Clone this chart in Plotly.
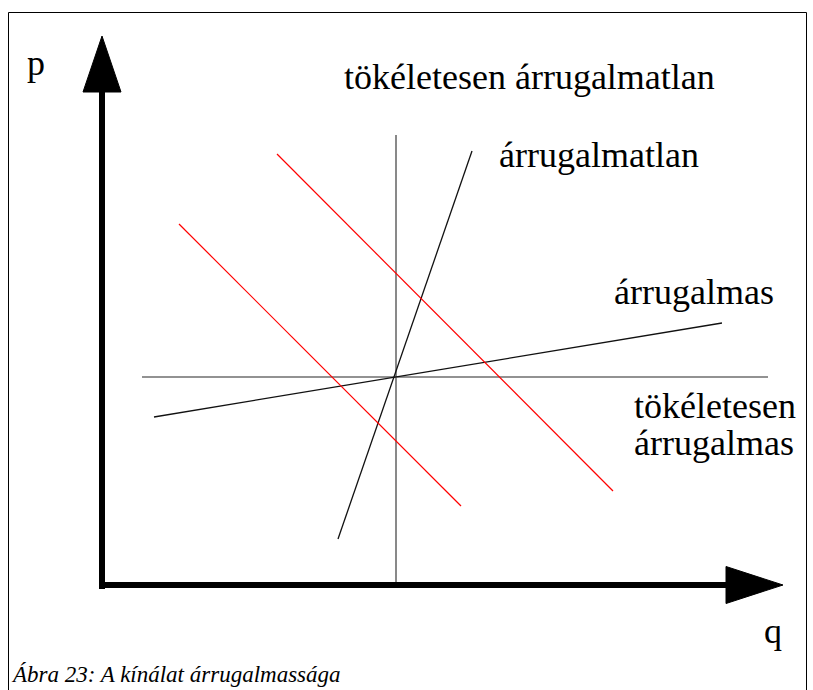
import plotly.graph_objects as go

# Diagram coordinates: q (quantity) horizontal, p (price) vertical
# perfectly inelastic (vertical) and perfectly elastic (horizontal) supply
perf_inel_q = [29.4, 29.4]
perf_inel_p = [0.3, 45.0]
perf_el_q = [4.0, 66.6]
perf_el_p = [20.8, 20.8]

# inelastic (steep) and elastic (flat) supply
inel_q = [23.6, 37.0]
inel_p = [4.6, 43.4]
el_q = [5.2, 62.0]
el_p = [16.8, 26.2]

# demand curves (red)
d1_q = [7.7, 35.9]
d1_p = [36.1, 7.9]
d2_q = [17.5, 51.1]
d2_p = [43.1, 9.4]

# axes
yaxis_q = [0, 0]
yaxis_p = [-0.4, 49.3]
yhead_q = [-1.9, 1.9, 0, -1.9]
yhead_p = [49.3, 49.3, 54.9, 49.3]
xaxis_q = [-0.3, 62.4]
xaxis_p = [0, 0]
xhead_q = [62.4, 62.4, 68.1, 62.4]
xhead_p = [1.85, -1.85, 0, 1.85]

labels = [
    ("tökéletesen árrugalmatlan", 24.0, 50.8),
    ("árrugalmatlan", 39.5, 43.0),
    ("árrugalmas", 51.0, 29.3),
    ("tökéletesen", 53.0, 17.9),
    ("árrugalmas", 53.0, 14.2),
]
axis_labels = [("p", -6.6, 52.2), ("q", 67.1, -4.6)]
caption = "Ábra 23: A kínálat árrugalmassága"

fig = go.Figure()

def line(x, y, color, width):
    fig.add_trace(go.Scatter(x=x, y=y, mode="lines",
                             line=dict(color=color, width=width),
                             hoverinfo="skip", showlegend=False))

line(perf_inel_q, perf_inel_p, "#4a4a4a", 1.3)
line(perf_el_q, perf_el_p, "#6e6e6e", 1.5)
line(inel_q, inel_p, "#111111", 1.3)
line(el_q, el_p, "#111111", 1.3)
line(d1_q, d1_p, "#ff0000", 1.2)
line(d2_q, d2_p, "#ff0000", 1.2)
line(yaxis_q, yaxis_p, "black", 6)
line(xaxis_q, xaxis_p, "black", 6)
for hx, hy in [(yhead_q, yhead_p), (xhead_q, xhead_p)]:
    fig.add_trace(go.Scatter(x=hx, y=hy, mode="lines", fill="toself",
                             fillcolor="black", line=dict(color="black", width=1),
                             hoverinfo="skip", showlegend=False))

serif = "'Liberation Serif', 'DejaVu Serif', serif"
for txt, x, y in labels:
    fig.add_annotation(x=x, y=y, text=txt, showarrow=False, xanchor="left",
                       yanchor="middle", font=dict(family=serif, size=36, color="black"))
for txt, x, y in axis_labels:
    fig.add_annotation(x=x, y=y, text=txt, showarrow=False, xanchor="center",
                       yanchor="middle", font=dict(family=serif, size=36, color="black"))
fig.add_annotation(x=-9.3, y=-8.9, text="<i>" + caption + "</i>", showarrow=False,
                   xanchor="left", yanchor="middle",
                   font=dict(family=serif, size=23, color="black"))

# frame
fig.add_shape(type="rect", xref="paper", yref="paper",
              x0=8.5 / 813, x1=806.5 / 813, y0=-0.05, y1=1 - 12.5 / 690,
              line=dict(color="black", width=1))

fig.update_layout(
    width=813, height=690,
    margin=dict(l=0, r=0, t=0, b=0),
    paper_bgcolor="white", plot_bgcolor="white",
    font=dict(family=serif),
    xaxis=dict(range=[-10.2, 71.1], visible=False, fixedrange=True),
    yaxis=dict(range=[-10.5, 58.5], visible=False, fixedrange=True),
)
fig.write_html("out.html", config={"displayModeBar": False},
               post_script="document.body.style.margin='0';document.body.style.overflow='hidden';")
